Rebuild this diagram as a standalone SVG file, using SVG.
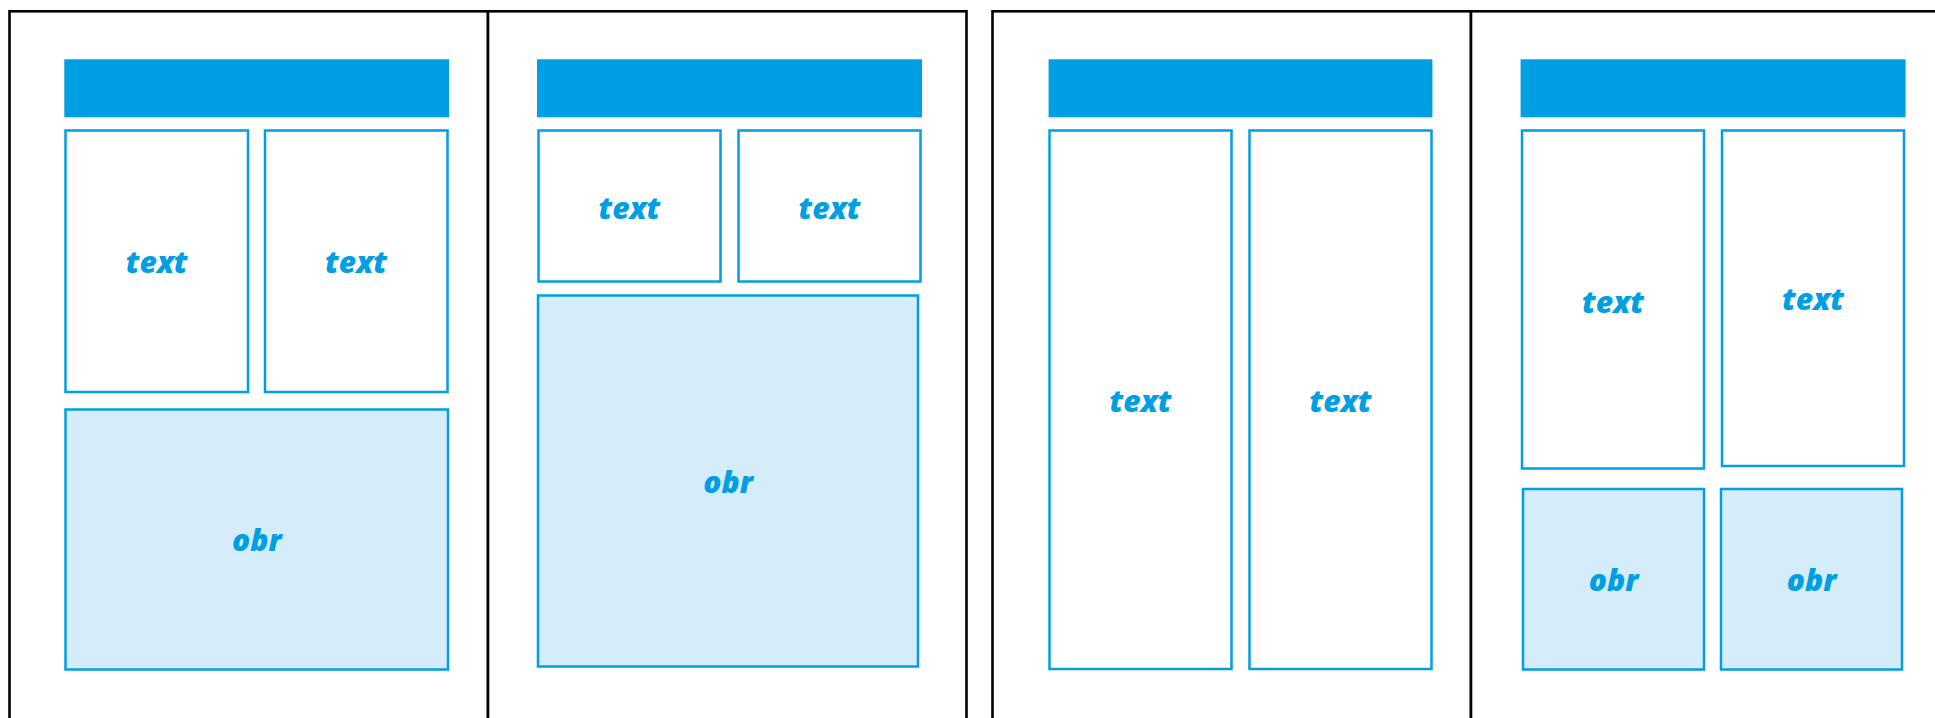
<svg xmlns="http://www.w3.org/2000/svg" width="1935" height="718" viewBox="0 0 1935 718">
<style>
.page{fill:#fff;stroke:#000;stroke-width:2.6}
.head{fill:#009FE3}
.tbox{fill:#fff;stroke:#009FE3;stroke-width:2.5}
.obox{fill:#D5ECFA;stroke:#009FE3;stroke-width:2.5}
.lbl{font-family:"Open Sans","Noto Sans",sans-serif;font-weight:800;font-style:italic;font-size:30px;fill:#009FE3;text-anchor:middle}
</style>
<rect width="1935" height="718" fill="#fff"/>
<g id="pages">
<rect class="page" x="9.5" y="11.3" width="478.5" height="800"/>
<rect class="page" x="488" y="11.3" width="478.5" height="800"/>
<rect class="page" x="992.5" y="11.3" width="478.5" height="800"/>
<rect class="page" x="1471" y="11.3" width="478.5" height="800"/>
</g>
<g id="page1">
<rect class="head" x="64.3" y="59.3" width="384.7" height="58"/>
<g id="p1-text1"><rect class="tbox" x="65.5" y="130.5" width="182.5" height="261.5"/><text class="lbl" x="156.7" y="273">text</text></g>
<g id="p1-text2"><rect class="tbox" x="265" y="130.5" width="182.5" height="261.5"/><text class="lbl" x="356" y="273">text</text></g>
<g id="p1-obr"><rect class="obox" x="65.5" y="409.5" width="382.5" height="260"/><text class="lbl" x="256.8" y="551">obr</text></g>
</g>
<g id="page2">
<rect class="head" x="537" y="59.3" width="385" height="58"/>
<g id="p2-text1"><rect class="tbox" x="538.5" y="130.5" width="182" height="151"/><text class="lbl" x="629.4" y="218.5">text</text></g>
<g id="p2-text2"><rect class="tbox" x="738.5" y="130.5" width="182" height="151"/><text class="lbl" x="829.5" y="218.5">text</text></g>
<g id="p2-obr"><rect class="obox" x="538" y="295.5" width="380" height="371"/><text class="lbl" x="728" y="492.5">obr</text></g>
</g>
<g id="page3">
<rect class="head" x="1048.6" y="59.3" width="383.8" height="58"/>
<g id="p3-text1"><rect class="tbox" x="1049.5" y="130.5" width="182" height="538.5"/><text class="lbl" x="1140.5" y="412">text</text></g>
<g id="p3-text2"><rect class="tbox" x="1249.5" y="130.5" width="182" height="538.5"/><text class="lbl" x="1340.5" y="412">text</text></g>
</g>
<g id="page4">
<rect class="head" x="1520.6" y="59.3" width="385" height="58"/>
<g id="p4-text1"><rect class="tbox" x="1522" y="130.5" width="182" height="338"/><text class="lbl" x="1613" y="312.7">text</text></g>
<g id="p4-text2"><rect class="tbox" x="1722" y="130.5" width="182" height="335.5"/><text class="lbl" x="1813" y="310">text</text></g>
<g id="p4-obr1"><rect class="obox" x="1523" y="489" width="181" height="180.5"/><text class="lbl" x="1613.5" y="591">obr</text></g>
<g id="p4-obr2"><rect class="obox" x="1721" y="489" width="181" height="180.5"/><text class="lbl" x="1811.5" y="591">obr</text></g>
</g>
<g id="connectors"/>
</svg>
